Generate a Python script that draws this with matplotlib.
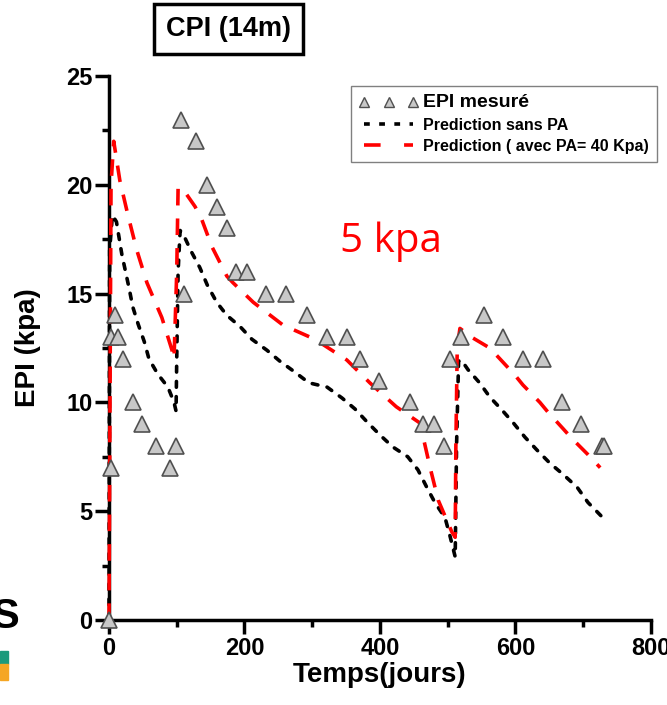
import matplotlib.pyplot as plt
from matplotlib.lines import Line2D
from matplotlib.patches import Rectangle

plt.rcParams['font.family'] = ['Liberation Sans', 'DejaVu Sans']

# measured EPI (kpa) vs time (days)
mes_x = [0, 3, 3, 9, 14, 21, 35, 48, 69, 90, 99, 107, 111, 129, 144, 159, 174,
         188, 203, 232, 261, 292, 322, 351, 370, 398, 445, 464, 480, 495, 503,
         519, 553, 582, 611, 640, 668, 697, 727, 731]
mes_y = [0, 7, 13, 14, 13, 12, 10, 9, 8, 7, 8, 23, 15, 22, 20, 19, 18,
         16, 16, 15, 15, 14, 13, 13, 12, 11, 10, 9, 9, 8, 12,
         13, 14, 13, 12, 12, 10, 9, 8, 8]

# prediction without PA
sans_x = [0, 1, 5, 11, 19, 30, 35, 43, 52, 59, 72, 87, 96, 99, 100, 102, 105,
          110, 122, 134, 145, 159, 174, 193, 211, 233, 252, 274, 295, 322, 344,
          363, 381, 400, 419, 441, 456, 469, 481, 496, 503, 511, 513, 516, 520,
          530, 547, 562, 580, 597, 614, 632, 651, 670, 691, 707, 729]
sans_y = [0, 17, 18.6, 18.3, 16.8, 15.2, 14.4, 13.6, 12.8, 12.0, 11.3, 10.7,
          10.0, 9.6, 12, 16, 17.9, 17.7, 16.9, 16.2, 15.4, 14.6, 14.0, 13.5,
          12.9, 12.4, 11.9, 11.4, 10.9, 10.7, 10.2, 9.7, 9.1, 8.5, 7.95, 7.5,
          6.9, 6.1, 5.4, 4.7, 3.9, 2.9, 8, 11.9, 11.95, 11.5, 10.9, 10.25, 9.65,
          9.05, 8.4, 7.8, 7.2, 6.7, 6.1, 5.4, 4.7]

# prediction with PA = 40 kpa
avec_x = [0, 3, 7, 16, 28, 41, 56, 78, 93, 96, 100, 102, 108, 127, 137, 152,
          174, 183, 213, 257, 304, 351, 385, 424, 459, 463, 474, 486, 506, 511,
          512, 514, 518, 535, 562, 577, 599, 611, 636, 648, 670, 683, 707, 725]
avec_y = [0, 20, 22, 20.2, 18.6, 17.0, 15.5, 13.9, 12.4, 12.0, 16, 19.85, 19.85,
          19.0, 18.4, 17.15, 15.8, 15.5, 14.6, 13.55, 12.9, 11.95, 10.9, 9.8,
          9.05, 8.5, 7.0, 5.5, 4.05, 3.8, 8, 12.5, 13.4, 13.0, 12.5, 12.0,
          11.26, 10.8, 10.0, 9.55, 8.8, 8.35, 7.6, 7.0]

xticks = [0, 200, 400, 600, 800]
yticks = [0, 5, 10, 15, 20, 25]

fig = plt.figure(figsize=(6.67, 7.05), dpi=100)
ax = fig.add_axes([0.1634, 0.1206, 0.8126, 0.7716])

ax.plot(sans_x, sans_y, color='black', lw=2.6, linestyle=(0, (1.6, 2.6)),
        dash_capstyle='round', clip_on=False, zorder=3)
ax.plot(avec_x, avec_y, color='#ff0000', lw=2.6, linestyle=(0, (4.6, 3.6)),
        clip_on=False, zorder=3)
ax.plot(mes_x, mes_y, linestyle='none', marker='^', markersize=12,
        mfc='#c8c8c8', mec='#505050', mew=1.2, clip_on=False, zorder=4)

ax.set_xlim(0, 800)
ax.set_ylim(0, 25)
ax.set_xticks(xticks)
ax.set_yticks(yticks)
ax.set_xticks([100, 300, 500, 700], minor=True)
ax.set_yticks([2.5, 7.5, 12.5, 17.5, 22.5], minor=True)
for s in ['top', 'right']:
    ax.spines[s].set_visible(False)
for s in ['left', 'bottom']:
    ax.spines[s].set_linewidth(2.5)
ax.tick_params(which='major', direction='out', length=10, width=2.5,
               labelsize=17, pad=2)
ax.tick_params(which='minor', direction='out', length=5, width=2.5)
for lab in ax.get_xticklabels() + ax.get_yticklabels():
    lab.set_fontweight('bold')

ax.set_xlabel('Temps(jours)', fontsize=20, fontweight='bold', labelpad=2)
ax.set_ylabel('EPI (kpa)', fontsize=20, fontweight='bold', labelpad=18)

h1 = Line2D([], [], linestyle='none', marker='^', markersize=7,
            mfc='#c8c8c8', mec='#505050', mew=1)
h2 = Line2D([], [], color='black', lw=2.6, linestyle=(0, (1.6, 2.6)))
h3 = Line2D([], [], color='#ff0000', lw=2.6, linestyle=(0, (4.6, 6.5)))
leg = ax.legend([h1, h2, h3],
                ['EPI mesuré', 'Prediction sans PA', 'Prediction ( avec PA= 40 Kpa)'],
                loc='upper left', bbox_to_anchor=(0.432, 0.996), numpoints=3,
                fancybox=False, edgecolor='#808080', framealpha=1,
                handlelength=3.7, handletextpad=0.3, borderpad=0.5,
                labelspacing=0.4, prop={'weight': 'bold', 'size': 11.5})
leg.get_frame().set_linewidth(1)
leg.get_texts()[0].set_fontsize(14)

ax.text(416, 17.4, '5 kpa', color='#ff0000', fontsize=29, family='Open Sans',
        ha='center', va='center')

fig.text(0.343, 0.959, 'CPI (14m)', fontsize=19.5, fontweight='bold',
         ha='center', va='center',
         bbox=dict(boxstyle='square,pad=0.45', fc='white', ec='black', lw=2.5))

# bits of neighbouring content at the left edge
fig.text(-0.012, 0.125, 'S', fontsize=30, fontweight='bold', va='center')
fig.patches.append(Rectangle((0, 0.058), 0.012, 0.018, color='#1b9a7c',
                             transform=fig.transFigure, figure=fig))
fig.patches.append(Rectangle((0, 0.035), 0.012, 0.023, color='#f5a623',
                             transform=fig.transFigure, figure=fig))

fig.savefig('out.png', dpi=100)
